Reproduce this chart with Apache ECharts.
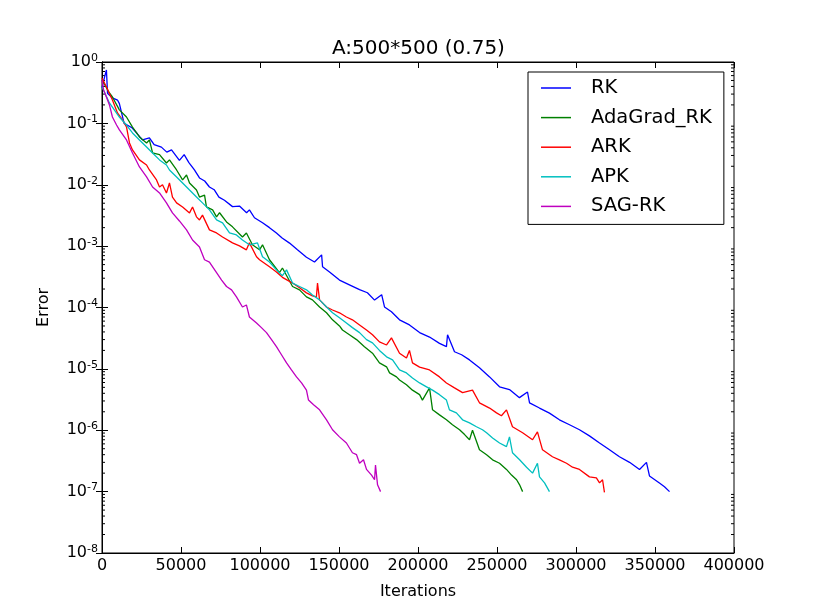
<!DOCTYPE html>
<html lang="en">
<head>
    <meta charset="UTF-8">
    <title>A:500*500 (0.75)</title>
    <script src="https://cdn.jsdelivr.net/npm/echarts@6.0.0/dist/echarts.min.js"></script>
    <style>
        html, body { margin: 0; padding: 0; background: #fff; }
        #main { width: 815px; height: 615px; }
    </style>
</head>
<body>
<div id="main"></div>
<script type="text/javascript">
    // [iterations, error]
    var rk = [[0,0.38],[1500,0.55],[2800,0.74],[3500,0.31],[6600,0.26],[9800,0.24],[11000,0.21],[14000,0.10],[19000,0.085],[22500,0.067],[25600,0.054],[30000,0.058],[33000,0.045],[37600,0.041],[41000,0.034],[44000,0.037],[49000,0.025],[52000,0.031],[55000,0.023],[58500,0.0175],[61700,0.0129],[65000,0.0115],[68000,0.0092],[71000,0.0083],[74000,0.0063],[77500,0.0056],[82600,0.0044],[87000,0.0045],[91500,0.0035],[93300,0.0039],[96500,0.0029],[101600,0.0024],[106000,0.0020],[110400,0.00163],[114000,0.00136],[118700,0.00112],[123700,0.00087],[129400,0.00066],[134500,0.00055],[139000,0.00072],[139600,0.00046],[144000,0.00038],[150300,0.00028],[156600,0.000234],[163000,0.000195],[168000,0.000174],[172500,0.000132],[177000,0.000162],[178800,0.000102],[183200,8.5e-5],[188300,6.3e-5],[194600,5.2e-5],[201000,3.9e-5],[207300,3.3e-5],[213600,2.6e-5],[218000,2.3e-5],[218700,3.6e-5],[223100,1.9e-5],[227600,1.7e-5],[232600,1.4e-5],[238900,1.04e-5],[245300,7.4e-6],[251600,5.1e-6],[257900,4.6e-6],[264200,3.4e-6],[269300,4.2e-6],[270600,2.8e-6],[276900,2.3e-6],[283200,1.9e-6],[289500,1.48e-6],[295900,1.23e-6],[302200,1.02e-6],[308500,8.1e-7],[314900,6.2e-7],[321200,4.8e-7],[327500,3.7e-7],[333900,3.0e-7],[340200,2.3e-7],[344600,3.0e-7],[346500,1.8e-7],[352800,1.38e-7],[356000,1.2e-7],[359200,1.0e-7]];
    var adaGradRk = [[0,0.51],[4700,0.313],[6600,0.269],[11000,0.166],[15500,0.127],[19300,0.087],[23700,0.060],[28200,0.048],[30000,0.0537],[32000,0.033],[36400,0.031],[40800,0.0226],[42700,0.0254],[47200,0.0174],[51000,0.012],[53500,0.0144],[55400,0.0107],[59800,0.0082],[61700,0.0063],[64900,0.0068],[66100,0.00435],[70000,0.0039],[72500,0.0030],[74400,0.0035],[78800,0.00248],[82600,0.00206],[88900,0.00141],[91400,0.00164],[95200,0.00105],[99700,0.00087],[101600,0.00105],[106000,0.0006],[112300,0.00037],[114200,0.00044],[120600,0.00022],[125000,0.000194],[129400,0.000149],[133200,0.000133],[137700,0.000102],[142100,8.2e-5],[145900,6.3e-5],[150300,5.0e-5],[152200,4.3e-5],[156600,3.6e-5],[161100,3.0e-5],[166100,2.3e-5],[171200,1.8e-5],[175600,1.25e-5],[180100,1.08e-5],[182000,8.6e-6],[186400,7.4e-6],[188300,6.6e-6],[192700,5.5e-6],[196500,4.5e-6],[201000,3.8e-6],[202800,3.1e-6],[207300,4.9e-6],[209200,2.15e-6],[213600,1.78e-6],[218000,1.48e-6],[221800,1.23e-6],[226300,1.02e-6],[229500,8.5e-7],[232600,7.0e-7],[234500,1.0e-6],[238900,4.8e-7],[243400,4.0e-7],[247200,3.3e-7],[251600,2.9e-7],[256000,2.3e-7],[259200,1.86e-7],[262400,1.56e-7],[264300,1.29e-7],[266200,1.0e-7]];
    var ark = [[0,0.548],[2800,0.392],[6600,0.24],[9800,0.148],[13000,0.114],[15500,0.0873],[17400,0.048],[19300,0.0369],[23700,0.0254],[28200,0.021],[30000,0.0174],[34500,0.012],[36400,0.0092],[38300,0.010],[40800,0.00735],[42700,0.0107],[44600,0.0063],[47200,0.00506],[51000,0.00435],[55400,0.00348],[57300,0.00435],[59800,0.0030],[61700,0.00267],[63600,0.0032],[68000,0.00184],[72500,0.00164],[76300,0.00141],[82600,0.00113],[87000,0.00101],[91400,0.00087],[93300,0.00113],[97800,0.00067],[99700,0.0006],[106000,0.00046],[110400,0.00038],[114200,0.00031],[120600,0.00025],[125000,0.00021],[129400,0.000173],[133200,0.000155],[135700,0.000149],[136400,0.00025],[137700,0.000133],[142100,0.000102],[145900,9.1e-5],[150300,8.2e-5],[154700,7.0e-5],[158500,6.3e-5],[163000,5.2e-5],[167400,4.3e-5],[171200,3.6e-5],[175600,2.75e-5],[180100,2.45e-5],[183200,3.2e-5],[188300,1.8e-5],[192700,1.5e-5],[194600,2.0e-5],[196500,1.25e-5],[201000,1.07e-5],[207300,9.6e-6],[213600,7.4e-6],[218000,5.9e-6],[223100,4.9e-6],[228200,4.1e-6],[234500,4.5e-6],[238900,2.8e-6],[245300,2.3e-6],[249700,1.92e-6],[252800,1.72e-6],[256000,2.15e-6],[259800,1.14e-6],[266200,9.1e-7],[272500,7.0e-7],[275600,9.4e-7],[278800,4.8e-7],[285100,3.7e-7],[289500,3.3e-7],[294000,2.9e-7],[297800,2.5e-7],[302200,2.3e-7],[308500,1.74e-7],[312900,1.68e-7],[314900,1.39e-7],[316800,1.56e-7],[318000,9.7e-8]];
    var apk = [[0,0.39],[4700,0.215],[11000,0.127],[15500,0.094],[19300,0.0698],[23700,0.0537],[28200,0.0413],[32000,0.033],[36400,0.0254],[40800,0.021],[42700,0.0174],[47200,0.0134],[51000,0.0107],[55400,0.0082],[59800,0.0063],[63600,0.00506],[68000,0.0039],[72500,0.00267],[76300,0.00239],[80700,0.00164],[85100,0.00152],[88900,0.00126],[93300,0.00105],[98400,0.00113],[101600,0.00067],[106000,0.00055],[110400,0.00041],[114200,0.00033],[116800,0.00041],[120600,0.00025],[125000,0.00022],[129400,0.000194],[133200,0.00016],[137700,0.000133],[142100,0.000102],[145900,8.2e-5],[150300,6.8e-5],[154700,5.6e-5],[158500,4.7e-5],[163000,3.9e-5],[167400,3.0e-5],[171200,2.65e-5],[175600,2.0e-5],[180100,1.57e-5],[183900,1.4e-5],[188300,9.6e-6],[192700,8.6e-6],[196500,7.1e-6],[201000,5.9e-6],[205400,5.1e-6],[209200,4.5e-6],[213600,3.8e-6],[218000,3.1e-6],[219900,2.15e-6],[224300,1.92e-6],[228200,1.48e-6],[232600,1.32e-6],[237000,1.14e-6],[240800,1.02e-6],[243400,9.1e-7],[247200,7.5e-7],[251600,6.2e-7],[256000,5.4e-7],[257900,7.8e-7],[259800,4.3e-7],[264300,3.3e-7],[268700,2.5e-7],[272500,2.0e-7],[275600,2.9e-7],[276900,1.74e-7],[280100,1.39e-7],[283200,1.0e-7]];
    var sagRk = [[0,0.51],[1000,0.35],[2800,0.269],[4700,0.2],[6600,0.127],[9200,0.094],[11000,0.0782],[15500,0.0537],[19300,0.033],[23700,0.0195],[28200,0.0134],[32000,0.0092],[36400,0.00735],[40800,0.00506],[44600,0.00348],[49000,0.00257],[53500,0.00184],[57300,0.00126],[61700,0.00097],[64900,0.0006],[68000,0.00055],[72500,0.00037],[75700,0.00028],[78800,0.00022],[82000,0.000194],[85100,0.000149],[88900,0.000102],[91400,0.00011],[93300,7.0e-5],[97800,5.6e-5],[100900,4.7e-5],[104100,3.9e-5],[107300,3.0e-5],[110400,2.3e-5],[113600,1.7e-5],[116800,1.25e-5],[119900,9.6e-6],[123100,7.4e-6],[126300,5.9e-6],[129400,4.5e-6],[130700,3.1e-6],[133900,2.6e-6],[137700,2.15e-6],[142100,1.48e-6],[145900,1.02e-6],[150300,7.8e-7],[154700,6.2e-7],[158500,4.3e-7],[161100,4.0e-7],[163000,2.9e-7],[165500,3.3e-7],[167400,2.3e-7],[170600,1.86e-7],[172500,1.56e-7],[173100,2.7e-7],[174400,1.29e-7],[176300,1.0e-7]];

    var names = ['RK', 'AdaGrad_RK', 'ARK', 'APK', 'SAG-RK'];
    var colors = ['#0000ff', '#008000', '#ff0000', '#00bfbf', '#bf00bf'];
    var seriesData = [rk, adaGradRk, ark, apk, sagRk];

    // minor ticks of the log axis: 2..9 in every decade
    var minorMult = [2, 3, 4, 5, 6, 7, 8, 9];
    var decades = [-8, -7, -6, -5, -4, -3, -2, -1];
    var minorTicks = [];
    decades.forEach(function (d) {
        minorMult.forEach(function (m) {
            minorTicks.push(m * Math.pow(10, d));
        });
    });

    var X_MIN = 0, X_MAX = 400000;
    var font = 'DejaVu Sans';
    var myChart = echarts.init(document.getElementById('main'));

    function logAxis(pos, showLabel) {
        var ax = {
            type: 'log',
            logBase: 10,
            min: 1e-8,
            max: 1,
            position: pos,
            axisLine: {show: true, lineStyle: {color: '#000', width: 1}},
            splitLine: {show: false},
            axisTick: {inside: true, length: 6, lineStyle: {color: '#000'}},
            axisLabel: {show: false}
        };
        if (showLabel) {
            ax.axisLabel = {
                show: true,
                margin: 4,
                formatter: function (v) {
                    var e = Math.round(Math.log10(v));
                    return '{b|10}{s|' + e + '}';
                },
                rich: {
                    b: {fontSize: 16, fontFamily: font, color: '#000'},
                    s: {fontSize: 11, fontFamily: font, color: '#000', verticalAlign: 'top', padding: [0, 0, 8, 0]}
                }
            };
            ax.name = 'Error';
            ax.nameLocation = 'middle';
            ax.nameGap = 50;
            ax.nameRotate = 90;
            ax.nameTextStyle = {fontSize: 16, fontFamily: font, color: '#000'};
        }
        return ax;
    }

    var series = names.map(function (n, i) {
        return {
            name: n,
            type: 'line',
            data: seriesData[i],
            symbol: 'none',
            showSymbol: false,
            lineStyle: {color: colors[i], width: 1.3},
            itemStyle: {color: colors[i]}
        };
    });

    // small inward ticks on both y edges, placed through the axes
    series.push({
        type: 'custom',
        silent: true,
        z: 1,
        data: minorTicks.map(function (v) { return [X_MIN, v]; }),
        renderItem: function (params, api) {
            var v = api.value(1);
            var pl = api.coord([X_MIN, v]);
            var pr = api.coord([X_MAX, v]);
            return {
                type: 'group',
                children: [
                    {type: 'line', shape: {x1: pl[0], y1: pl[1], x2: pl[0] + 3, y2: pl[1]}, style: {stroke: '#000', lineWidth: 1}},
                    {type: 'line', shape: {x1: pr[0] - 3, y1: pr[1], x2: pr[0], y2: pr[1]}, style: {stroke: '#000', lineWidth: 1}}
                ]
            };
        }
    });

    var option = {
        animation: false,
        backgroundColor: '#fff',
        title: {
            text: 'A:500*500 (0.75)',
            left: 332,
            top: 39,
            padding: 0,
            textStyle: {fontSize: 20, fontWeight: 'normal', fontFamily: font, color: '#000'}
        },
        legend: {
            orient: 'vertical',
            left: 528,
            top: 72,
            padding: [6, 12, 8, 13],
            itemGap: 9.6,
            itemWidth: 30,
            itemHeight: 1.5,
            icon: 'rect',
            borderColor: '#000',
            borderWidth: 1,
            backgroundColor: '#fff',
            textStyle: {fontSize: 19.5, fontFamily: font, color: '#000', lineHeight: 20, padding: [0, 0, 0, 15]},
            data: names
        },
        grid: {left: 102, right: 81, top: 62, bottom: 62, show: true, borderColor: '#000', borderWidth: 1, containLabel: false},
        xAxis: [{
            type: 'value',
            min: X_MIN,
            max: X_MAX,
            interval: 50000,
            position: 'bottom',
            name: 'Iterations',
            nameLocation: 'middle',
            nameGap: 31,
            nameTextStyle: {fontSize: 16, fontFamily: font, color: '#000'},
            axisLine: {show: true, lineStyle: {color: '#000'}},
            splitLine: {show: false},
            axisTick: {inside: true, length: 6, lineStyle: {color: '#000'}},
            axisLabel: {
                fontSize: 16, fontFamily: font, color: '#000', margin: 5,
                formatter: function (v) { return String(v); }
            }
        }, {
            type: 'value',
            min: X_MIN,
            max: X_MAX,
            interval: 50000,
            position: 'top',
            axisLine: {show: true, lineStyle: {color: '#000'}},
            splitLine: {show: false},
            axisTick: {inside: true, length: 6, lineStyle: {color: '#000'}},
            axisLabel: {show: false}
        }],
        yAxis: [
            logAxis('left', true),
            logAxis('right', false)
        ],
        series: series
    };

    myChart.setOption(option);
</script>
</body>
</html>
